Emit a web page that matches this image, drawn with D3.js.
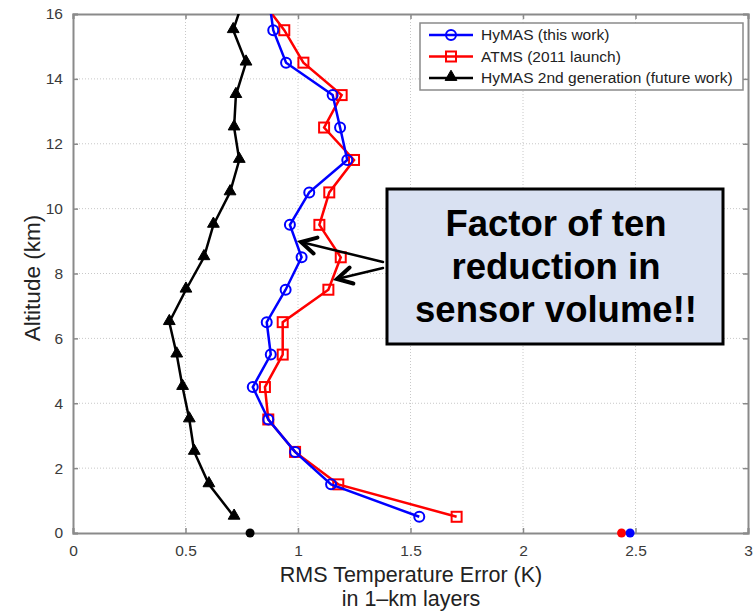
<!DOCTYPE html>
<html>
<head>
<meta charset="utf-8">
<script src="https://cdn.jsdelivr.net/npm/d3@7"></script>
<style>
  body { margin: 0; background: #fff; }
  text { font-family: "Liberation Sans", Arial, sans-serif; }
</style>
</head>
<body>
<script>
// altitudes (km) of the 1-km layer centres
var altitudes = [0.5, 1.5, 2.5, 3.5, 4.5, 5.5, 6.5, 7.5, 8.5, 9.5, 10.5, 11.5, 12.5, 13.5, 14.5, 15.5, 16.5];

var hymas   = [1.539, 1.147, 0.987, 0.868, 0.799, 0.879, 0.861, 0.945, 1.016, 0.964, 1.050, 1.219, 1.187, 1.154, 0.947, 0.890, 0.87];
var atms    = [1.705, 1.179, 0.987, 0.868, 0.853, 0.932, 0.932, 1.135, 1.190, 1.095, 1.139, 1.249, 1.116, 1.194, 1.024, 0.939, 0.83];
var hymas2  = [0.716, 0.604, 0.539, 0.517, 0.487, 0.461, 0.428, 0.502, 0.582, 0.624, 0.698, 0.739, 0.716, 0.724, 0.769, 0.712, 0.76];

// surface values (altitude 0)
var surfaceVals = [0.787, 2.438, 2.476];
var surfaceColors = ['#000', '#ff0000', '#0000ff'];

var seriesNames = ['HyMAS (this work)', 'ATMS (2011 launch)', 'HyMAS 2nd generation (future work)'];
var seriesColors = ['#0000ff', '#ff0000', '#000000'];
var seriesMarkers = ['circle', 'square', 'triangle'];

var xTicks = [0, 0.5, 1, 1.5, 2, 2.5, 3];
var yTicks = [0, 2, 4, 6, 8, 10, 12, 14, 16];

var width = 756, height = 614;
var margin = {left: 73, right: 8, top: 14, bottom: 81};

var svg = d3.select('body').append('svg')
  .attr('width', width)
  .attr('height', height);

var x = d3.scaleLinear().domain([0, 3]).range([margin.left, width - margin.right]);
var y = d3.scaleLinear().domain([0, 16]).range([height - margin.bottom, margin.top]);

svg.append('clipPath').attr('id', 'plot')
  .append('rect')
  .attr('x', x(0)).attr('y', y(16))
  .attr('width', x(3) - x(0)).attr('height', y(0) - y(16));

// grid
svg.append('g').selectAll('line').data(xTicks.slice(1, -1)).enter().append('line')
  .attr('x1', function(d) { return x(d); }).attr('x2', function(d) { return x(d); })
  .attr('y1', y(0)).attr('y2', y(16))
  .attr('stroke', '#c8c8c8').attr('stroke-dasharray', '1,2');
svg.append('g').selectAll('line').data(yTicks.slice(1, -1)).enter().append('line')
  .attr('y1', function(d) { return y(d); }).attr('y2', function(d) { return y(d); })
  .attr('x1', x(0)).attr('x2', x(3))
  .attr('stroke', '#c8c8c8').attr('stroke-dasharray', '1,2');

// axes (matlab style box, ticks inward)
var axisColor = '#8a8a8a';
var gx = svg.append('g').attr('transform', 'translate(0,' + y(0) + ')')
  .call(d3.axisBottom(x).tickValues(xTicks).tickSize(-5).tickPadding(12).tickFormat(d3.format('')));
var gxTop = svg.append('g').attr('transform', 'translate(0,' + y(16) + ')')
  .call(d3.axisTop(x).tickValues(xTicks).tickSize(-5).tickFormat(''));
var gy = svg.append('g').attr('transform', 'translate(' + x(0) + ',0)')
  .call(d3.axisLeft(y).tickValues(yTicks).tickSize(-5).tickPadding(10));
var gyR = svg.append('g').attr('transform', 'translate(' + x(3) + ',0)')
  .call(d3.axisRight(y).tickValues(yTicks).tickSize(-5).tickFormat(''));

[gx, gxTop, gy, gyR].forEach(function(g) {
  g.select('.domain').attr('stroke', axisColor).attr('stroke-width', 2);
  g.selectAll('.tick line').attr('stroke', axisColor).attr('stroke-width', 1.5);
  g.selectAll('.tick text').attr('fill', '#3a3a3a').style('font-size', '15.5px')
    .style('font-family', '"Liberation Sans", Arial, sans-serif');
});

// axis titles
svg.append('text')
  .attr('x', 411).attr('y', 582)
  .attr('text-anchor', 'middle')
  .attr('fill', '#222').style('font-size', '21.5px')
  .text('RMS Temperature Error (K)');
svg.append('text')
  .attr('x', 411).attr('y', 606)
  .attr('text-anchor', 'middle')
  .attr('fill', '#222').style('font-size', '21.5px')
  .text('in 1\u2013km layers');
svg.append('text')
  .attr('transform', 'translate(40,' + 278 + ') rotate(-90)')
  .attr('text-anchor', 'middle')
  .attr('fill', '#222').style('font-size', '22.5px')
  .text('Altitude (km)');

// series
var allSeries = [hymas, atms, hymas2];
var line = d3.line()
  .x(function(d) { return x(d[0]); })
  .y(function(d) { return y(d[1]); });

var plot = svg.append('g').attr('clip-path', 'url(#plot)');

function drawMarker(g, kind, color, cx, cy) {
  if (kind === 'circle') {
    g.append('circle').attr('cx', cx).attr('cy', cy).attr('r', 5)
      .attr('fill', 'none').attr('stroke', color).attr('stroke-width', 2);
  } else if (kind === 'square') {
    g.append('rect').attr('x', cx - 5).attr('y', cy - 5).attr('width', 10).attr('height', 10)
      .attr('fill', 'none').attr('stroke', color).attr('stroke-width', 2);
  } else {
    g.append('path')
      .attr('d', d3.symbol().type(d3.symbolTriangle).size(60)())
      .attr('transform', 'translate(' + cx + ',' + (cy - 1) + ')')
      .attr('fill', color).attr('stroke', color).attr('stroke-width', 1);
  }
}

// black first, then red, blue on top
[2, 1, 0].forEach(function(s) {
  var pts = allSeries[s].map(function(v, i) { return [v, altitudes[i]]; });
  plot.append('path')
    .attr('d', line(pts))
    .attr('fill', 'none')
    .attr('stroke', seriesColors[s])
    .attr('stroke-width', 2.5);
  var mg = plot.append('g');
  pts.forEach(function(p) {
    drawMarker(mg, seriesMarkers[s], seriesColors[s], x(p[0]), y(p[1]));
  });
});

// surface dots
svg.append('g').selectAll('circle').data(surfaceVals).enter().append('circle')
  .attr('cx', function(d) { return x(d); })
  .attr('cy', y(0))
  .attr('r', 4.5)
  .attr('fill', function(d, i) { return surfaceColors[i]; });

// legend
var lg = svg.append('g');
lg.append('rect')
  .attr('x', 420).attr('y', 23).attr('width', 323).attr('height', 67)
  .attr('fill', '#fff').attr('stroke', '#8a8a8a').attr('stroke-width', 1.5);
seriesNames.forEach(function(name, i) {
  var ly = 35 + i * 21.5;
  lg.append('line').attr('x1', 429).attr('x2', 473).attr('y1', ly).attr('y2', ly)
    .attr('stroke', seriesColors[i]).attr('stroke-width', 2.5);
  drawMarker(lg, seriesMarkers[i], seriesColors[i], 451, ly);
  lg.append('text').attr('x', 481).attr('y', ly + 5)
    .attr('fill', '#222').style('font-size', '15.5px')
    .text(name);
});

// annotation box
var box = svg.append('g');
box.append('rect')
  .attr('x', 387).attr('y', 189).attr('width', 336).attr('height', 155)
  .attr('fill', '#d9e1f2').attr('stroke', '#000').attr('stroke-width', 3);
['Factor of ten', 'reduction in', 'sensor volume!!'].forEach(function(t, i) {
  box.append('text')
    .attr('x', 556).attr('y', 236 + i * 43)
    .attr('text-anchor', 'middle')
    .attr('fill', '#000')
    .style('font-size', '36.5px').style('font-weight', 'bold')
    .text(t);
});

// arrows
function arrow(x1, y1, x2, y2) {
  var ang = Math.atan2(y1 - y2, x1 - x2);
  var len = 17, spread = 0.5;
  var g = svg.append('g').attr('stroke', '#000').attr('fill', 'none').attr('stroke-linecap', 'round');
  g.append('line').attr('x1', x1).attr('y1', y1).attr('x2', x2).attr('y2', y2).attr('stroke-width', 2.5);
  g.append('path')
    .attr('d', 'M' + (x2 + len * Math.cos(ang + spread)) + ',' + (y2 + len * Math.sin(ang + spread)) +
      'L' + x2 + ',' + y2 +
      'L' + (x2 + len * Math.cos(ang - spread)) + ',' + (y2 + len * Math.sin(ang - spread)))
    .attr('stroke-width', 4).attr('stroke-linejoin', 'miter');
}
arrow(383, 262, 301, 242);
arrow(383, 268, 337, 279);
</script>
</body>
</html>
